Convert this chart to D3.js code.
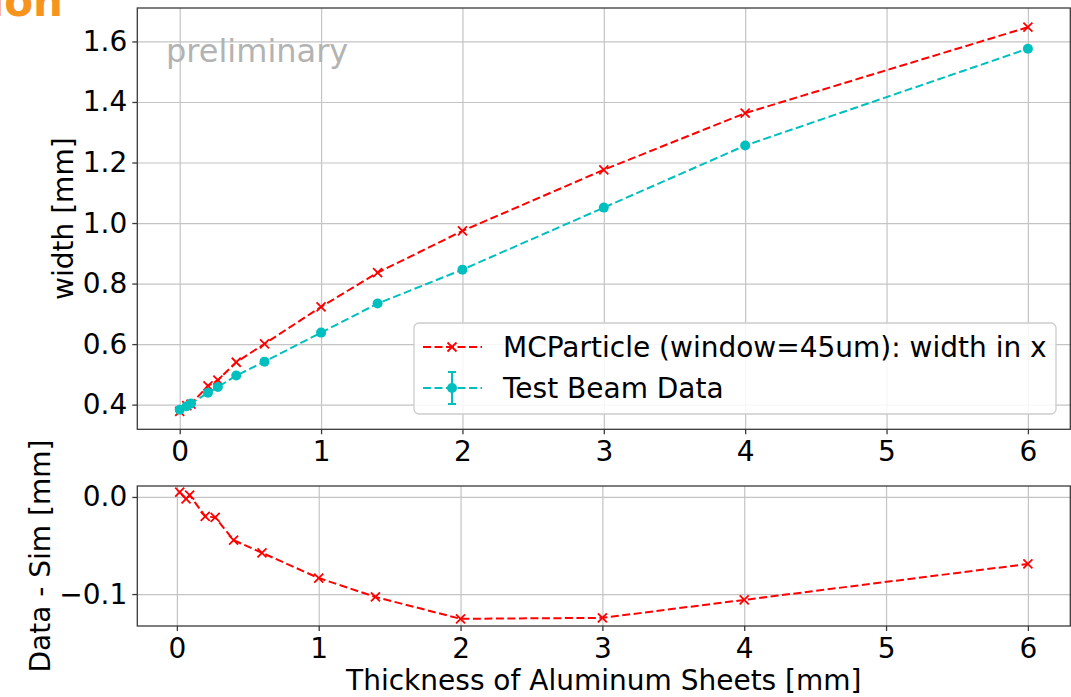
<!DOCTYPE html>
<html>
<head>
<meta charset="utf-8">
<script src="https://cdn.jsdelivr.net/npm/d3@7"></script>
<style>
  html, body { margin: 0; padding: 0; background: #fff; }
  svg { display: block; }
  text { font-family: "DejaVu Sans", sans-serif; }
</style>
</head>
<body>
<svg id="chart" width="1071" height="697"></svg>
<script>
// ---- data ----
const thickness = [0, 0.05, 0.08, 0.2, 0.27, 0.4, 0.6, 1, 1.4, 2, 3, 4, 6];
const simWidth  = [0.378, 0.397, 0.402, 0.462, 0.481, 0.540, 0.601, 0.723, 0.836, 0.974, 1.176, 1.363, 1.647];
const dataWidth = [0.383, 0.395, 0.404, 0.439, 0.458, 0.496, 0.542, 0.638, 0.734, 0.846, 1.051, 1.256, 1.576];
const diffThickness = [0.02, 0.065, 0.09, 0.2, 0.27, 0.4, 0.6, 1, 1.4, 2, 3, 4, 6];
const diffValues = [0.005, -0.002, 0.002, -0.020, -0.021, -0.0445, -0.0575, -0.0835, -0.103, -0.1255, -0.1245, -0.106, -0.069];
const xTicks = [0, 1, 2, 3, 4, 5, 6];
const yTicksTop = [0.4, 0.6, 0.8, 1.0, 1.2, 1.4, 1.6];
const yTicksBottom = [-0.1, 0.0];
const seriesNames = ["MCParticle (window=45um): width in x", "Test Beam Data"];

// ---- layout ----
const svg = d3.select("#chart");
const FS = 28;
const RED = "#ff0000", CYAN = "#00bfbf", GRID = "#c4c4c4", SPINE = "#3a3a3a";
const L = 137.3, R = 1070.3;
const top1 = 8, bot1 = 429.3;
const top2 = 486, bot2 = 626;

const xTop = d3.scaleLinear().domain([-0.3, 6.3]).range([L, R]);
const yTop = d3.scaleLinear().domain([0.3185, 1.7105]).range([bot1, top1]);
const xBot = d3.scaleLinear().domain([-0.279, 6.299]).range([L, R]);
const yBot = d3.scaleLinear().domain([-0.1329, 0.0113]).range([bot2, top2]);

function panel(x, y, yt, t, b) {
  const g = svg.append("g");
  g.append("g").attr("transform", `translate(0,${b})`)
    .call(d3.axisBottom(x).tickValues(xTicks).tickSize(-(b - t)).tickFormat(""))
    .call(s => s.select(".domain").remove())
    .call(s => s.selectAll("line").attr("stroke", GRID).attr("stroke-width", 1.2));
  g.append("g").attr("transform", `translate(${L},0)`)
    .call(d3.axisLeft(y).tickValues(yt).tickSize(-(R - L)).tickFormat(""))
    .call(s => s.select(".domain").remove())
    .call(s => s.selectAll("line").attr("stroke", GRID).attr("stroke-width", 1.2));
  return g;
}

function axes(g, x, y, yt, yfmt, t, b) {
  const ax = g.append("g").attr("transform", `translate(0,${b})`)
    .call(d3.axisBottom(x).tickValues(xTicks).tickSize(5).tickPadding(7).tickFormat(d3.format("d")));
  const ay = g.append("g").attr("transform", `translate(${L},0)`)
    .call(d3.axisLeft(y).tickValues(yt).tickSize(5).tickPadding(5).tickFormat(yfmt));
  [ax, ay].forEach(a => {
    a.select(".domain").remove();
    a.selectAll("line").attr("stroke", SPINE).attr("stroke-width", 1.3);
    a.selectAll("text").attr("font-size", FS).attr("fill", "#000")
      .attr("font-family", "DejaVu Sans");
  });
  g.append("rect").attr("x", L).attr("y", t).attr("width", R - L).attr("height", b - t)
    .attr("fill", "none").attr("stroke", SPINE).attr("stroke-width", 1.3);
}

function crosses(g, pts, x, y, s) {
  g.selectAll(null).data(pts).enter().append("path")
    .attr("d", d => {
      const cx = x(d[0]), cy = y(d[1]);
      return `M${cx - s},${cy - s}L${cx + s},${cy + s}M${cx - s},${cy + s}L${cx + s},${cy - s}`;
    })
    .attr("stroke", RED).attr("stroke-width", 1.8).attr("fill", "none");
}

// ---- top panel ----
const g1 = panel(xTop, yTop, yTicksTop, top1, bot1);
g1.append("text").attr("x", 166).attr("y", 62)
  .attr("font-family", "Liberation Sans, Arial, sans-serif").attr("font-size", 32)
  .attr("fill", "#b3b3b3").text("preliminary");

const simPts = thickness.map((t, i) => [t, simWidth[i]]);
const dataPts = thickness.map((t, i) => [t, dataWidth[i]]);
const line1 = d3.line().x(d => xTop(d[0])).y(d => yTop(d[1]));
g1.append("path").attr("d", line1(simPts)).attr("fill", "none")
  .attr("stroke", RED).attr("stroke-width", 2).attr("stroke-dasharray", "8,3.5");
crosses(g1, simPts, xTop, yTop, 4.5);
g1.append("path").attr("d", line1(dataPts)).attr("fill", "none")
  .attr("stroke", CYAN).attr("stroke-width", 2).attr("stroke-dasharray", "8,3.5");
g1.selectAll(null).data(dataPts).enter().append("circle")
  .attr("cx", d => xTop(d[0])).attr("cy", d => yTop(d[1])).attr("r", 5)
  .attr("fill", CYAN);
axes(g1, xTop, yTop, yTicksTop, d3.format(".1f"), top1, bot1);

// legend
const lg = svg.append("g");
lg.append("rect").attr("x", 414).attr("y", 323).attr("width", 642).attr("height", 91)
  .attr("rx", 5).attr("fill", "#fff").attr("fill-opacity", 0.85)
  .attr("stroke", "#cccccc").attr("stroke-width", 1.3);
const row1 = 347, row2 = 388;
lg.append("line").attr("x1", 423).attr("x2", 482).attr("y1", row1).attr("y2", row1)
  .attr("stroke", RED).attr("stroke-width", 2).attr("stroke-dasharray", "8,3.5");
lg.append("path").attr("d", `M${452 - 4.5},${row1 - 4.5}L${452 + 4.5},${row1 + 4.5}M${452 - 4.5},${row1 + 4.5}L${452 + 4.5},${row1 - 4.5}`)
  .attr("stroke", RED).attr("stroke-width", 1.8);
lg.append("line").attr("x1", 423).attr("x2", 482).attr("y1", row2).attr("y2", row2)
  .attr("stroke", CYAN).attr("stroke-width", 2).attr("stroke-dasharray", "8,3.5");
lg.append("line").attr("x1", 452).attr("x2", 452).attr("y1", row2 - 16).attr("y2", row2 + 16)
  .attr("stroke", CYAN).attr("stroke-width", 2);
[row2 - 16, row2 + 16].forEach(yy => lg.append("line").attr("x1", 448).attr("x2", 456)
  .attr("y1", yy).attr("y2", yy).attr("stroke", CYAN).attr("stroke-width", 2));
lg.append("circle").attr("cx", 452).attr("cy", row2).attr("r", 5).attr("fill", CYAN);
lg.selectAll(null).data(seriesNames).enter().append("text")
  .attr("x", 503).attr("y", (d, i) => (i === 0 ? row1 : row2) + 10)
  .attr("font-size", FS).attr("fill", "#000").text(d => d);

// ---- bottom panel ----
const g2 = panel(xBot, yBot, yTicksBottom, top2, bot2);
const diffPts = diffThickness.map((t, i) => [t, diffValues[i]]);
const line2 = d3.line().x(d => xBot(d[0])).y(d => yBot(d[1]));
g2.append("path").attr("d", line2(diffPts)).attr("fill", "none")
  .attr("stroke", RED).attr("stroke-width", 2).attr("stroke-dasharray", "8,3.5");
crosses(g2, diffPts, xBot, yBot, 4.5);
axes(g2, xBot, yBot, yTicksBottom, d => d === 0 ? "0.0" : d3.format(".1f")(d).replace("-", "\u2212"), top2, bot2);

// ---- labels ----
svg.append("text").attr("transform", `translate(73,${(top1 + bot1) / 2}) rotate(-90)`)
  .attr("text-anchor", "middle").attr("font-size", FS).text("width [mm]");
svg.append("text").attr("transform", `translate(50,${(top2 + bot2) / 2}) rotate(-90)`)
  .attr("text-anchor", "middle").attr("font-size", FS).text("Data - Sim [mm]");
svg.append("text").attr("x", (L + R) / 2).attr("y", 690)
  .attr("text-anchor", "middle").attr("font-size", FS).text("Thickness of Aluminum Sheets [mm]");

// cropped slide title fragment (cut by the top edge in the reference too)
svg.append("text").attr("x", 63).attr("y", 16).attr("text-anchor", "end")
  .attr("font-family", "Liberation Sans, Arial, sans-serif").attr("font-weight", "bold")
  .attr("font-size", 42).attr("fill", "#f7941d").text("ion");
</script>
</body>
</html>
